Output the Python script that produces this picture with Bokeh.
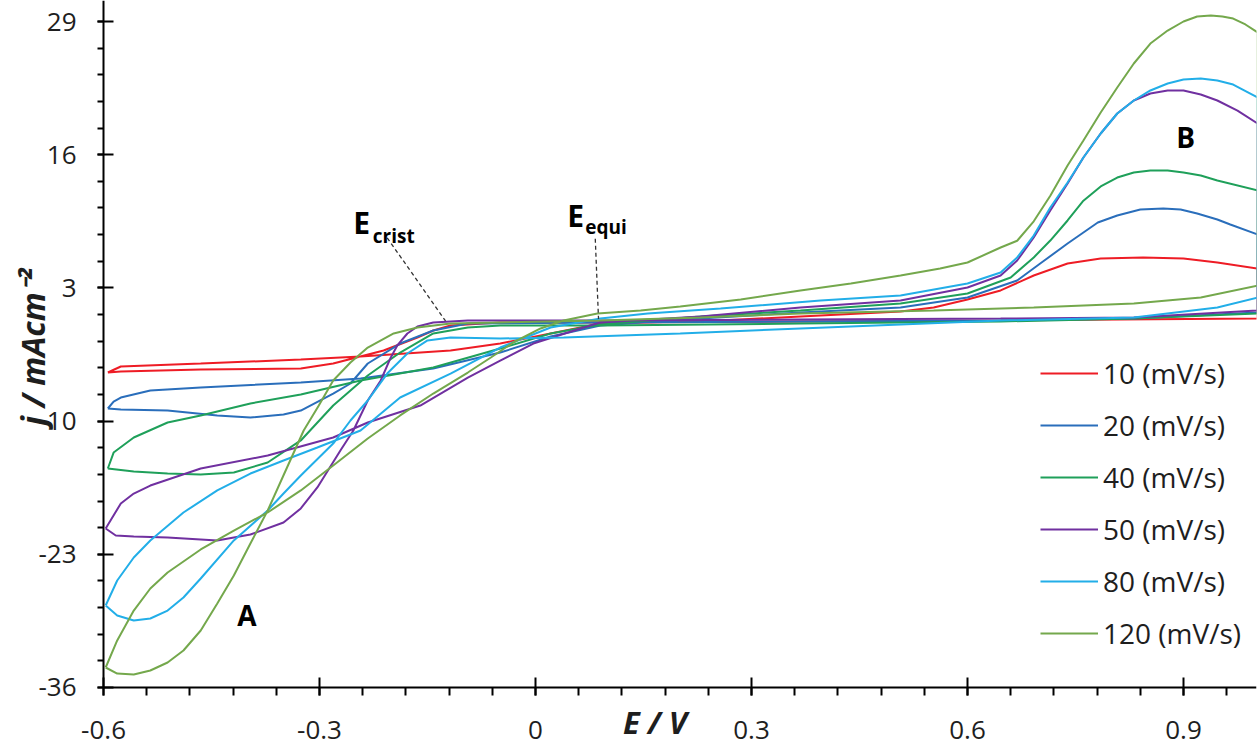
import math
from bokeh.plotting import figure
from bokeh.models import FixedTicker, Legend, LegendItem, Label, Range1d
from bokeh.embed import file_html
from bokeh.resources import INLINE

# ---------------- data (E in V, j in mA cm^-2) ----------------
labels = ["10 (mV/s)", "20 (mV/s)", "40 (mV/s)", "50 (mV/s)", "80 (mV/s)", "120 (mV/s)"]
colors = ["#ee1c25", "#2a6ebb", "#1fa05a", "#7030a0", "#22aee8", "#74a84c"]

x_ticks = [-0.6, -0.3, 0, 0.3, 0.6, 0.9]
x_tick_labels = ["-0.6", "-0.3", "0", "0.3", "0.6", "0.9"]
y_ticks = [-36, -23, -10, 3, 16, 29]
y_tick_labels = ["-36", "-23", "-10", "3", "16", "29"]

E_10 = [-0.594, -0.576, -0.465, -0.326, -0.243, -0.118, -0.049, 0.021, 0.090, 0.229, 0.368, 0.507, 0.553, 0.600,
        0.646, 0.692, 0.739, 0.785, 0.844, 0.900, 0.947, 1.003,
        1.003, 0.646, 0.368, 0.090, -0.049, -0.118, -0.142, -0.164, -0.211, -0.281, -0.326, -0.465, -0.576, -0.594]
J_10 = [-5.26, -4.67, -4.38, -3.99, -3.70, -3.11, -2.43, -1.45, -0.48, -0.28, 0.21, 0.70, 1.09, 1.87,
        2.75, 4.21, 5.38, 5.87, 5.97, 5.87, 5.48, 4.89,
        0.01, -0.18, -0.28, -0.38, -0.38, -0.67, -1.16, -1.84, -3.11, -4.38, -4.87, -4.96, -5.16, -5.26]

E_20 = [-0.594, -0.586, -0.576, -0.535, -0.465, -0.326, -0.243, -0.142, -0.049, 0.021, 0.090, 0.229, 0.368, 0.507,
        0.600, 0.669, 0.701, 0.739, 0.781, 0.808, 0.840, 0.872, 0.896, 0.919, 0.947, 0.965, 1.003,
        1.003, 0.831, 0.646, 0.368, 0.090, -0.094, -0.142, -0.188, -0.233, -0.257, -0.281, -0.326, -0.350,
        -0.396, -0.442, -0.511, -0.576, -0.594]
J_20 = [-8.77, -8.09, -7.70, -7.01, -6.72, -6.23, -5.84, -4.87, -3.31, -1.74, -0.67, 0.01, 0.60, 1.09,
        2.06, 3.72, 5.38, 7.33, 9.38, 10.07, 10.65, 10.75, 10.65, 10.26, 9.68, 9.19, 8.21,
        0.60, 0.01, -0.18, -0.28, -0.38, -0.48, -1.16, -2.43, -4.38, -6.33, -7.31, -8.97, -9.36,
        -9.65, -9.45, -8.97, -8.87, -8.77]

E_40 = [-0.594, -0.586, -0.558, -0.511, -0.465, -0.396, -0.326, -0.243, -0.142, -0.049, 0.021, 0.090, 0.229,
        0.368, 0.507, 0.600, 0.660, 0.692, 0.715, 0.739, 0.761, 0.785, 0.808, 0.831, 0.854, 0.878, 0.900,
        0.924, 0.947, 1.003,
        1.003, 0.831, 0.646, 0.368, 0.090, -0.049, -0.094, -0.142, -0.188, -0.233, -0.281, -0.326, -0.372,
        -0.419, -0.465, -0.511, -0.558, -0.594]
J_40 = [-14.63, -13.07, -11.60, -10.14, -9.45, -8.28, -7.41, -6.04, -4.77, -2.92, -1.45, -0.57, 0.21,
        0.79, 1.48, 2.45, 4.01, 5.97, 7.62, 9.58, 11.51, 12.90, 13.77, 14.26, 14.46, 14.46, 14.26,
        13.97, 13.48, 12.51,
        0.50, 0.01, -0.28, -0.48, -0.67, -0.67, -0.87, -1.45, -3.31, -5.55, -8.48, -11.89, -14.04,
        -15.02, -15.21, -15.12, -14.92, -14.63]

E_50 = [-0.597, -0.576, -0.558, -0.535, -0.465, -0.372, -0.281, -0.233, -0.160, -0.094, -0.049, -0.003, 0.067,
        0.090, 0.229, 0.368, 0.507, 0.600, 0.646, 0.669, 0.692, 0.715, 0.739, 0.761, 0.785, 0.808, 0.831,
        0.854, 0.878, 0.900, 0.924, 0.947, 0.975, 1.003,
        1.003, 0.831, 0.646, 0.368, 0.090, -0.094, -0.142, -0.164, -0.178, -0.192, -0.201, -0.215, -0.233,
        -0.253, -0.271, -0.303, -0.326, -0.350, -0.396, -0.442, -0.511, -0.558, -0.583, -0.597]
J_50 = [-20.48, -18.04, -17.07, -16.29, -14.63, -13.36, -11.60, -10.14, -8.48, -5.75, -4.09, -2.43, -0.87,
        -0.38, 0.21, 1.09, 1.77, 3.04, 4.21, 5.67, 7.92, 10.55, 13.19, 15.73, 18.07, 20.02, 21.29,
        21.97, 22.27, 22.27, 21.88, 21.29, 20.31, 19.04,
        0.79, 0.11, 0.01, -0.09, -0.18, -0.18, -0.38, -0.77, -1.45, -2.62, -3.79, -6.04, -7.99,
        -10.92, -12.87, -16.48, -18.53, -19.90, -21.07, -21.65, -21.36, -21.26, -21.17, -20.48]

E_80 = [-0.597, -0.581, -0.558, -0.535, -0.489, -0.442, -0.396, -0.350, -0.303, -0.243, -0.188, -0.118, -0.049,
        0.021, 0.090, 0.156, 0.257, 0.396, 0.507, 0.600, 0.646, 0.669, 0.692, 0.715, 0.739, 0.761, 0.785,
        0.808, 0.831, 0.854, 0.878, 0.900, 0.924, 0.947, 0.969, 1.003,
        1.003, 0.947, 0.831, 0.646, 0.507, 0.368, 0.201, 0.039, -0.049, -0.118, -0.150, -0.178, -0.206,
        -0.233, -0.257, -0.281, -0.326, -0.350, -0.372, -0.419, -0.465, -0.489, -0.511, -0.535, -0.558,
        -0.581, -0.597]
J_80 = [-28.00, -25.56, -23.31, -21.65, -18.92, -16.77, -15.12, -13.85, -12.58, -10.92, -7.70, -5.36, -2.82,
        -0.87, 0.01, 0.50, 0.99, 1.77, 2.26, 3.43, 4.50, 5.97, 8.11, 10.85, 13.29, 15.73, 18.07,
        20.02, 21.29, 22.27, 22.95, 23.34, 23.44, 23.24, 22.85, 21.58,
        2.06, 1.09, 0.11, -0.18, -0.57, -0.96, -1.45, -1.84, -1.94, -1.84, -2.13, -3.40, -5.36,
        -7.99, -9.94, -12.19, -15.31, -17.07, -18.73, -21.65, -25.36, -27.22, -28.49, -29.27, -29.46,
        -28.97, -28.00]

E_120 = [-0.597, -0.581, -0.558, -0.535, -0.511, -0.465, -0.419, -0.372, -0.326, -0.281, -0.233, -0.188, -0.142,
         -0.094, -0.062, -0.031, 0.007, 0.039, 0.086, 0.146, 0.201, 0.285, 0.368, 0.438, 0.507, 0.562, 0.600,
         0.646, 0.669, 0.692, 0.715, 0.739, 0.761, 0.785, 0.808, 0.831, 0.854, 0.878, 0.900, 0.919, 0.938,
         0.954, 0.969, 0.986, 1.003,
         1.003, 0.924, 0.831, 0.692, 0.553, 0.368, 0.229, 0.090, -0.049, -0.118, -0.164, -0.197, -0.233,
         -0.257, -0.281, -0.301, -0.322, -0.347, -0.372, -0.396, -0.419, -0.442, -0.465, -0.489, -0.511,
         -0.535, -0.558, -0.581, -0.597]
J_120 = [-34.05, -31.41, -28.49, -26.34, -24.78, -22.53, -20.68, -18.92, -16.77, -14.33, -11.70, -9.45, -7.31,
         -5.26, -3.79, -2.33, -0.96, -0.18, 0.50, 0.79, 1.18, 1.87, 2.75, 3.43, 4.21, 4.89, 5.48,
         6.94, 7.60, 9.50, 12.00, 14.95, 17.39, 20.12, 22.56, 24.90, 26.85, 28.12, 29.00, 29.49, 29.59,
         29.49, 29.29, 28.71, 27.93,
         3.23, 2.06, 1.48, 1.09, 0.79, 0.50, 0.11, -0.18, -0.38, -0.48, -0.87, -1.45, -2.82,
         -4.28, -6.04, -8.48, -10.92, -14.82, -18.73, -21.95, -25.07, -27.80, -30.44, -32.39, -33.56,
         -34.34, -34.73, -34.64, -34.05]

# annotation positions (data units)
ecrist_line_x = [-0.206, -0.125]
ecrist_line_y = [7.89, -0.23]
eequi_line_x = [0.083, 0.0875]
eequi_line_y = [7.79, -0.03]

series_E = [E_10, E_20, E_40, E_50, E_80, E_120]
series_J = [J_10, J_20, J_40, J_50, J_80, J_120]

FONT = "Open Sans"
TXT = "#1e1e1e"

X0, X1 = -0.7431, 1.0014
Y0, Y1 = -41.76, 31.05

p = figure(width=1257, height=746, output_backend="svg", toolbar_location=None,
           x_range=Range1d(X0, X1), y_range=Range1d(Y0, Y1),
           min_border_left=0, min_border_right=1, min_border_top=0, min_border_bottom=0)
p.outline_line_color = None
p.grid.visible = False

items = []
for E, J, c, lab in zip(series_E, series_J, colors, labels):
    r = p.line(E, J, line_color=c, line_width=2)
    items.append(LegendItem(label=lab, renderers=[r]))

legend = Legend(items=items, location=(1040, 94), padding=0, margin=0, spacing=14,
                glyph_width=58, glyph_height=38, label_height=38, label_standoff=5,
                label_text_font=FONT, label_text_font_size="28px", label_text_color=TXT,
                border_line_color=None, background_fill_alpha=0)
p.add_layout(legend)

# axes, drawn at fixed data positions
xax = p.xaxis[0]
xax.fixed_location = -36
xax.bounds = (-0.6, X1)
xax.ticker = FixedTicker(ticks=x_ticks, minor_ticks=[-0.6 + 0.06 * i for i in range(27)])
xax.major_label_overrides = dict(zip(x_ticks, x_tick_labels))
yax = p.yaxis[0]
yax.fixed_location = -0.6
yax.bounds = (-36, Y1)
yax.ticker = FixedTicker(ticks=y_ticks, minor_ticks=[-36 + 2.6 * i for i in range(26)])
yax.major_label_overrides = dict(zip(y_ticks, y_tick_labels))
for ax in (xax, yax):
    ax.axis_line_width = 2
    ax.axis_line_color = "black"
    ax.major_tick_line_color = "black"
    ax.minor_tick_line_color = "black"
    ax.major_tick_line_width = 2
    ax.minor_tick_line_width = 2
    ax.major_label_text_font = FONT
    ax.major_label_text_font_size = "26px"
    ax.major_label_text_color = TXT
xax.major_tick_in = 10
xax.major_tick_out = 8
xax.minor_tick_in = 0
xax.minor_tick_out = 8
xax.major_label_standoff = 26
yax.major_tick_in = 10
yax.major_tick_out = 6
yax.minor_tick_in = 0
yax.minor_tick_out = 6
yax.major_label_standoff = 21

# axis titles (placed inside the frame area, left of / below the axes)
p.add_layout(Label(x=0.166, y=-39.35, text="E / V",
                   text_font=FONT, text_font_style="bold italic", text_font_size="31px",
                   text_color=TXT, text_align="center", text_baseline="middle"))
p.add_layout(Label(x=-0.6987, y=-2.8, text="j / mAcm\u207b\u00b2",
                   angle=math.pi / 2, text_font=FONT, text_font_style="bold italic",
                   text_font_size="32px", text_color=TXT, text_align="center", text_baseline="middle"))

# peak labels
p.add_layout(Label(x=-0.401, y=-28.88, text="A", text_font=FONT, text_font_style="bold",
                   text_font_size="28px", text_color="black", text_align="center", text_baseline="middle"))
p.add_layout(Label(x=0.903, y=17.68, text="B", text_font=FONT, text_font_style="bold",
                   text_font_size="28px", text_color="black", text_align="center", text_baseline="middle"))

# E_crist / E_equi
p.line(ecrist_line_x, ecrist_line_y, line_color="#333333", line_width=1.3, line_dash="4 3")
p.line(eequi_line_x, eequi_line_y, line_color="#333333", line_width=1.3, line_dash="4 3")
p.add_layout(Label(x=-0.253, y=9.35, text="E", text_font=FONT, text_font_style="bold",
                   text_font_size="30px", text_color="black", text_baseline="alphabetic"))
p.add_layout(Label(x=-0.226, y=8.08, text="crist", text_font=FONT, text_font_style="bold",
                   text_font_size="19px", text_color="black", text_baseline="alphabetic"))
p.add_layout(Label(x=0.044, y=10.04, text="E", text_font=FONT, text_font_style="bold",
                   text_font_size="30px", text_color="black", text_baseline="alphabetic"))
p.add_layout(Label(x=0.069, y=8.98, text="equi", text_font=FONT, text_font_style="bold",
                   text_font_size="19px", text_color="black", text_baseline="alphabetic"))

open("out.html", "w").write(file_html(p, INLINE))
